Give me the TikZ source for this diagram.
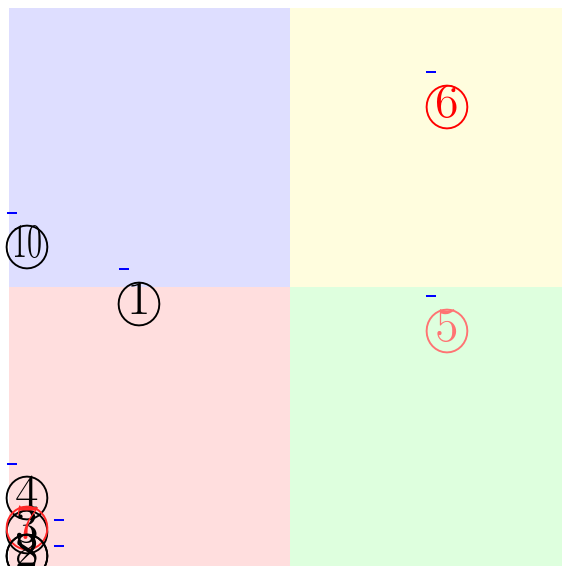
\documentclass[tikz,border=0pt]{standalone}
\usepackage{xcolor}
\usepackage{graphicx}

\tikzset{every picture/.style={line width=0.75pt}}
\tikzset{quadrant/.style={draw=none}, tick/.style={color=blue, line width=0.6}, numlabel/.style={inner sep=0pt, font=\Large}}
\newcommand{\circnum}[1]{\textcircled{#1}}
\newcommand{\circnumwide}[1]{\textcircled{\scalebox{0.64}[1]{#1}}}

\begin{document}
\begin{tikzpicture}[x=0.3pt,y=0.3pt,yscale=-1,xscale=1]
\useasboundingbox (0,0) rectangle (562,566); %set diagram frame

%Shape: Rectangle [id:quadA] 
\fill [quadrant, fill=blue!13] (9,8) rectangle (290,287) ;
%Shape: Rectangle [id:quadB] 
\fill [quadrant, fill=yellow!13] (290,8) rectangle (562,287) ;
%Shape: Rectangle [id:quadC] 
\fill [quadrant, fill=red!13] (9,287) rectangle (290,566) ;
%Shape: Rectangle [id:quadD] 
\fill [quadrant, fill=green!13] (290,287) rectangle (562,566) ;

%Straight Lines [id:tickA] 
\draw [tick]    (7,213) -- (17,213) ;
%Straight Lines [id:tickB] 
\draw [tick]    (119,269) -- (129,269) ;
%Straight Lines [id:tickC] 
\draw [tick]    (426,72) -- (436,72) ;
%Straight Lines [id:tickD] 
\draw [tick]    (426,296) -- (436,296) ;
%Straight Lines [id:tickE] 
\draw [tick]    (7,464) -- (17,464) ;
%Straight Lines [id:tickF] 
\draw [tick]    (54,520) -- (64,520) ;
%Straight Lines [id:tickG] 
\draw [tick]    (54,546) -- (64,546) ;

% Text Node
\draw (27.5,247) node (c10) [numlabel] {\circnumwide{10}};
% Text Node
\draw (139.5,304) node (c1) [numlabel] {\circnum{1}};
% Text Node
\draw (447.3,107) node (c6) [numlabel, color=red] {\circnum{6}};
% Text Node
\draw (447.3,331) node (c5) [numlabel, color=red!55] {\circnum{5}};
% Text Node
\draw (27,498) node (c4) [numlabel] {\circnum{4}};
% Text Node
\draw (27,532) node (c3) [numlabel] {\circnum{3}};
% Text Node
\draw (27,528) node (c7) [numlabel, color=red!85] {\circnum{7}};
% Text Node
\draw (27,556) node (c2) [numlabel] {\circnum{2}};
% Text Node
\draw (27,556) node (c8) [numlabel] {\circnum{8}};

\end{tikzpicture}
\end{document}
